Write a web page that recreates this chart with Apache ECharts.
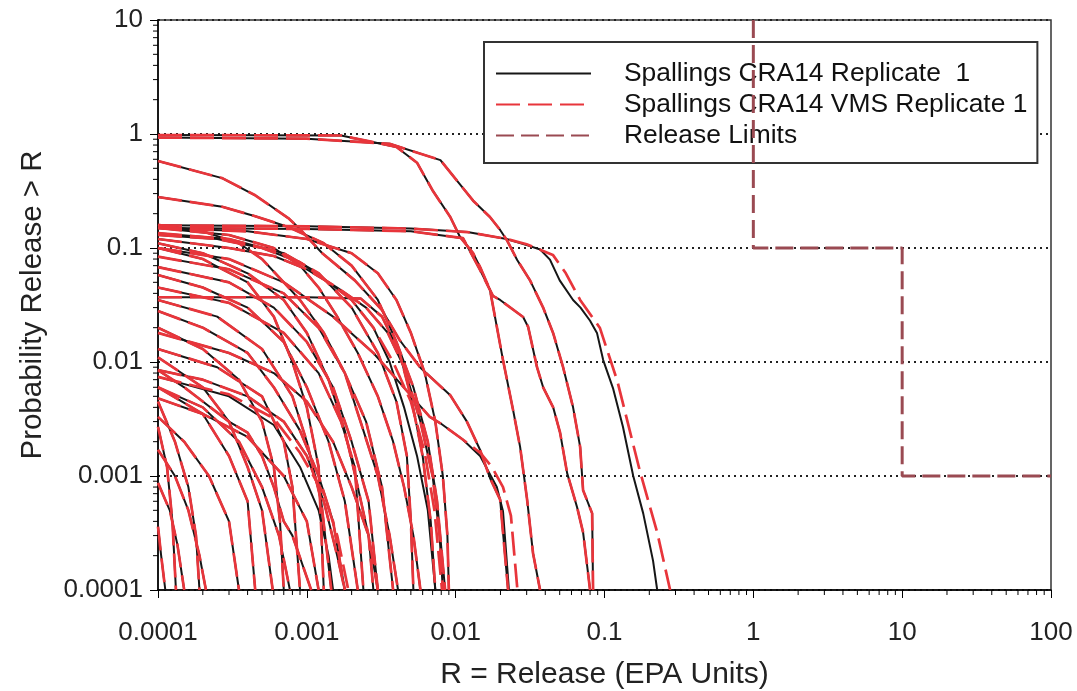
<!DOCTYPE html>
<html><head><meta charset="utf-8">
<script src="https://cdn.jsdelivr.net/npm/echarts@6/dist/echarts.min.js"></script>
<style>html,body{margin:0;padding:0;background:#fff}#c{width:1077px;height:691px}</style>
</head><body><div id="c"></div>
<script>
// ---- tick labels ----
const xTickLabels = ['0.0001','0.001','0.01','0.1','1','10','100'];
const yTickLabels = ['0.0001','0.001','0.01','0.1','1','10'];
const minorXTicks = [2e-4,3e-4,4e-4,5e-4,6e-4,7e-4,8e-4,9e-4,0.002,0.003,0.004,0.005,0.006,0.007,0.008,0.009,0.02,0.03,0.04,0.05,0.06,0.07,0.08,0.09,0.2,0.3,0.4,0.5,0.6,0.7,0.8,0.9,2,3,4,5,6,7,8,9,20,30,40,50,60,70,80,90];
const minorYTicks = [2e-4,3e-4,4e-4,5e-4,6e-4,7e-4,8e-4,9e-4,0.002,0.003,0.004,0.005,0.006,0.007,0.008,0.009,0.02,0.03,0.04,0.05,0.06,0.07,0.08,0.09,0.2,0.3,0.4,0.5,0.6,0.7,0.8,0.9,2,3,4,5,6,7,8,9];

// ---- series names ----
const NAME_REP = 'Spallings CRA14 Replicate  1';
const NAME_VMS = 'Spallings CRA14 VMS Replicate 1';
const NAME_REL = 'Release Limits';

// ---- release limits ----
const releaseLimits = [[1,10],[1,0.1],[10,0.1],[10,0.001],[100,0.001]];

// ---- CCDF curves [release, probability] ----
const curveB1 = [[1e-4,0.98],[0.0017,0.97],[0.004,0.77],[0.0055,0.56],[0.007,0.32],[0.0092,0.187],[0.0107,0.125],[0.0131,0.09],[0.0146,0.068],[0.017,0.043],[0.0208,0.0104],[0.0243,0.0038],[0.0271,0.0018],[0.0302,6.2e-4],[0.0331,2.1e-4],[0.0369,1e-4]];
const curveB2 = [[1e-4,0.93],[0.001,0.91],[0.0036,0.82],[0.0079,0.59],[0.0102,0.39],[0.0131,0.26],[0.017,0.187],[0.0199,0.144],[0.0221,0.117],[0.0259,0.0785],[0.0316,0.052],[0.0387,0.03],[0.0452,0.0179],[0.0527,0.009],[0.0615,0.004],[0.0686,0.0018],[0.0718,7.5e-4],[0.0826,4.7e-4],[0.0838,1e-4]];
const curveA = [[1e-4,0.158],[0.001,0.155],[0.005,0.148],[0.012,0.138],[0.022,0.12],[0.03,0.106],[0.037,0.097],[0.043,0.079],[0.05,0.052],[0.0615,0.035],[0.069,0.03],[0.08,0.023],[0.089,0.018],[0.098,0.0104],[0.114,0.0059],[0.133,0.0027],[0.156,0.001],[0.182,4.7e-4],[0.212,1.8e-4],[0.226,1e-4]];
const curveAvms = [[1e-4,0.158],[0.001,0.155],[0.005,0.148],[0.012,0.138],[0.022,0.12],[0.03,0.108],[0.045,0.087],[0.055,0.06],[0.0686,0.035],[0.093,0.02],[0.122,0.0068],[0.173,0.0011],[0.226,3.2e-4],[0.276,1e-4]];
const curveC = [[1e-4,0.15],[0.001,0.147],[0.005,0.14],[0.0112,0.122],[0.0146,0.064],[0.0178,0.038],[0.0199,0.035],[0.0284,0.0248],[0.0307,0.0203],[0.0352,0.009],[0.0387,0.006],[0.0452,0.004],[0.0503,0.0024],[0.0561,0.00106],[0.0655,5.3e-4],[0.0718,3.2e-4],[0.08,1e-4]];
const curveD = [[1e-4,0.58],[2.7e-4,0.41],[4.5e-4,0.29],[7.5e-4,0.183],[8.7e-4,0.153],[0.00127,0.09],[0.0021,0.052],[0.0032,0.0286],[0.0042,0.0156],[0.0058,0.0089],[0.0092,0.0051],[0.0119,0.003],[0.0146,0.00169],[0.017,9.6e-4],[0.0199,6.2e-4],[0.0208,3.2e-4],[0.0225,1e-4]];
const curveE = [[1e-4,0.28],[2.7e-4,0.23],[4.5e-4,0.19],[7.5e-4,0.153],[0.0013,0.11],[0.002,0.07],[0.003,0.035],[0.004,0.015],[0.0052,0.006],[0.0065,0.002],[0.0075,6e-4],[0.0085,1e-4]];
const curveG = [[1e-4,0.1],[3e-4,0.08],[7e-4,0.05],[0.0015,0.025],[0.0028,0.012],[0.0042,0.0066],[0.0067,0.0033],[0.0079,0.0029],[0.0111,0.0021],[0.0146,0.0015],[0.0189,8e-4],[0.0208,4.9e-4],[0.0228,1e-4]];
const curveGvms = [[1e-4,0.1],[3e-4,0.08],[7e-4,0.05],[0.0015,0.025],[0.0028,0.012],[0.0042,0.0066],[0.0067,0.0033],[0.0079,0.0029],[0.0111,0.0021],[0.0146,0.0016],[0.0175,0.0012],[0.0208,8e-4],[0.0235,4.5e-4],[0.026,1e-4]];
const curveH = [[1e-4,0.037],[0.001,0.037],[0.0023,0.036],[0.0032,0.025],[0.0042,0.012],[0.005,0.005],[0.006,0.0015],[0.0068,4e-4],[0.0073,1e-4]];
const curveK1 = [[1e-4,0.16],[2e-4,0.14],[3.5e-4,0.11],[5e-4,0.08],[7e-4,0.05],[9e-4,0.035],[0.0013,0.018],[0.0018,0.008],[0.0024,0.0025],[0.003,0.001],[0.0036,3e-4],[0.0041,1e-4]];
const curveK2 = [[1e-4,0.15],[3e-4,0.13],[6e-4,0.1],[9e-4,0.07],[0.0012,0.045],[0.0016,0.025],[0.0022,0.012],[0.003,0.005],[0.0038,0.002],[0.0045,8e-4],[0.0052,3e-4],[0.0058,1e-4]];
const curveK3 = [[1e-4,0.13],[2.5e-4,0.12],[5e-4,0.1],[9e-4,0.075],[0.0014,0.05],[0.002,0.035],[0.0028,0.02],[0.0036,0.01],[0.0045,0.004],[0.0055,0.0015],[0.0065,5e-4],[0.0073,1e-4]];
const curveK3vms = [[1e-4,0.13],[2.5e-4,0.12],[5e-4,0.1],[9e-4,0.075],[0.0014,0.05],[0.002,0.035],[0.0028,0.02],[0.0038,0.01],[0.005,0.0045],[0.0062,0.0016],[0.0072,5e-4],[0.0081,1e-4]];
const curveK4 = [[1e-4,0.12],[3e-4,0.1],[6e-4,0.085],[0.001,0.065],[0.0016,0.045],[0.0025,0.03],[0.0035,0.018],[0.0045,0.009],[0.0058,0.003],[0.007,0.001],[0.0078,3e-4],[0.0082,1e-4]];
const curveL2 = [[1e-4,0.028],[2e-4,0.02],[4e-4,0.012],[6e-4,0.006],[9e-4,0.0025],[0.0012,0.001],[0.0015,4e-4],[0.0018,1e-4]];
const curveL3 = [[1e-4,0.018],[3e-4,0.012],[6e-4,0.008],[0.001,0.0045],[0.0015,0.002],[0.002,8e-4],[0.0026,3e-4],[0.003,1e-4]];
const curveL4 = [[1e-4,0.0085],[2e-4,0.007],[4e-4,0.005],[7e-4,0.003],[0.001,0.0015],[0.0013,6e-4],[0.0016,2e-4],[0.0018,1e-4]];
const curveL5 = [[1e-4,0.0074],[3e-4,0.005],[6e-4,0.0028],[9e-4,0.0012],[0.0012,5e-4],[0.0014,2e-4],[0.0015,1e-4]];
const curveL5vms = [[1e-4,0.0074],[3e-4,0.0052],[6e-4,0.0032],[9e-4,0.0016],[0.0013,7e-4],[0.0016,3e-4],[0.0019,1e-4]];
const curveL6 = [[1e-4,0.006],[2e-4,0.004],[3.5e-4,0.002],[5e-4,8e-4],[6.5e-4,3e-4],[7.7e-4,1e-4]];
const curveL7 = [[1e-4,0.0048],[2e-4,0.0035],[4e-4,0.0022],[7e-4,0.001],[0.001,4e-4],[0.0012,1e-4]];
const curveL8 = [[1e-4,0.0033],[1.5e-4,0.002],[2.2e-4,0.001],[3e-4,4e-4],[3.5e-4,1e-4]];
const curveL9 = [[1e-4,0.0017],[1.3e-4,0.001],[1.6e-4,5e-4],[1.9e-4,2e-4],[2.1e-4,1e-4]];
const curveL10 = [[1e-4,8.7e-4],[1.2e-4,5e-4],[1.35e-4,2.5e-4],[1.5e-4,1e-4]];
const curveL11 = [[1e-4,3.6e-4],[1.05e-4,2e-4],[1.12e-4,1e-4]];
const curveL12 = [[1e-4,0.058],[2e-4,0.045],[4e-4,0.03],[7e-4,0.015],[0.001,0.006],[0.0014,0.002],[0.0018,6e-4],[0.0022,1e-4]];
const curveL13 = [[1e-4,0.068],[3e-4,0.05],[6e-4,0.03],[0.001,0.015],[0.0015,0.006],[0.002,0.002],[0.0026,6e-4],[0.003,1e-4]];
const curveL14 = [[1e-4,0.084],[3e-4,0.065],[7e-4,0.04],[0.0012,0.02],[0.0018,0.008],[0.0025,0.003],[0.0032,8e-4],[0.0038,1e-4]];
const curveL15 = [[1e-4,0.1],[2e-4,0.08],[4e-4,0.05],[6e-4,0.025],[8e-4,0.01],[0.001,0.004],[0.0012,0.0012],[0.0013,1e-4]];
const curveM1 = [[1e-4,0.0045],[1.3e-4,0.002],[1.6e-4,8e-4],[1.8e-4,3e-4],[1.9e-4,1e-4]];
const curveM2 = [[1e-4,0.0027],[1.15e-4,0.0012],[1.25e-4,4e-4],[1.32e-4,1e-4]];
const curveM3 = [[1e-4,0.011],[2e-4,0.006],[3e-4,0.003],[4e-4,0.0012],[5e-4,5e-4],[5.9e-4,1e-4]];
const curveM4 = [[1e-4,0.006],[2e-4,0.0035],[3e-4,0.0015],[4e-4,6e-4],[4.5e-4,1e-4]];
const curveM5 = [[1e-4,0.013],[2.5e-4,0.009],[5e-4,0.005],[7e-4,0.002],[8e-4,8e-4],[9e-4,1e-4]];
const curveM6 = [[1e-4,0.035],[2.5e-4,0.025],[5e-4,0.013],[8e-4,0.005],[0.001,0.002],[0.00125,6e-4],[0.00146,1e-4]];
const curveM7 = [[1e-4,0.045],[3e-4,0.033],[7e-4,0.018],[0.0012,0.008],[0.0017,0.003],[0.0021,0.0012],[0.0024,1e-4]];
const curveM8 = [[1e-4,0.11],[2e-4,0.09],[4e-4,0.06],[7e-4,0.035],[0.001,0.018],[0.0014,0.007],[0.0018,0.0025],[0.0022,8e-4],[0.0026,3e-4],[0.0028,1e-4]];
const curveM9 = [[1e-4,0.135],[3e-4,0.12],[7e-4,0.09],[0.0012,0.06],[0.002,0.03],[0.003,0.012],[0.004,0.0045],[0.0047,0.0015],[0.005,4e-4],[0.0052,1e-4]];
const curveM10 = [[1e-4,0.15],[4e-4,0.14],[0.001,0.12],[0.002,0.09],[0.003,0.06],[0.004,0.035],[0.005,0.018],[0.0062,0.008],[0.0073,0.003],[0.0082,0.001],[0.0088,3e-4],[0.009,1e-4]];
const curveM13 = [[1e-4,0.02],[2e-4,0.013],[3.5e-4,0.007],[5e-4,0.003],[6e-4,0.0012],[6.6e-4,4e-4],[7e-4,1e-4]];
const curveM14 = [[1e-4,0.0085],[1.5e-4,0.006],[2e-4,0.0045],[3e-4,0.003],[4e-4,0.0024],[5e-4,0.0015],[6e-4,8e-4],[7e-4,4e-4],[8e-4,3e-4],[0.00107,1e-4]];

const replicateCurves = [curveB1,curveB2,curveA,curveC,curveD,curveE,curveG,curveH,curveK1,curveK2,curveK3,curveK4,curveL2,curveL3,curveL4,curveL5,curveL6,curveL7,curveL8,curveL9,curveL10,curveL11,curveL12,curveL13,curveL14,curveL15,curveM1,curveM2,curveM3,curveM4,curveM5,curveM6,curveM7,curveM8,curveM9,curveM10,curveM13,curveM14];
const vmsCurves = [curveB1,curveB2,curveAvms,curveC,curveD,curveE,curveGvms,curveH,curveK1,curveK2,curveK3vms,curveK4,curveL2,curveL3,curveL4,curveL5vms,curveL6,curveL7,curveL8,curveL9,curveL10,curveL11,curveL12,curveL13,curveL14,curveL15,curveM1,curveM2,curveM3,curveM4,curveM5,curveM6,curveM7,curveM8,curveM9,curveM10,curveM13,curveM14];

const FONT = 'Liberation Sans, Arial, sans-serif';
const BLACK = '#161616', RED = '#E8353B', BROWN = '#9A4A52';
const chart = echarts.init(document.getElementById('c'), null, {renderer:'canvas'});

const series = [];
replicateCurves.forEach(function(c){
  series.push({name:NAME_REP, type:'line', data:c, symbol:'none', showSymbol:false, silent:true,
    itemStyle:{color:BLACK}, lineStyle:{color:BLACK, width:2}, z:2});
});
vmsCurves.forEach(function(c){
  series.push({name:NAME_VMS, type:'line', data:c, symbol:'none', showSymbol:false, silent:true,
    itemStyle:{color:RED}, lineStyle:{color:RED, width:2.7, type:[24,8]}, z:3});
});
series.push({name:NAME_REL, type:'line', data:releaseLimits, symbol:'none', showSymbol:false, silent:true,
  itemStyle:{color:BROWN}, lineStyle:{color:BROWN, width:3, type:[18,7]}, z:4});
// minor ticks drawn through the axis scales
series.push({type:'custom', silent:true, clip:false, z:6,
  data: minorXTicks.map(function(v){return [v, 1e-4];}),
  encode:{x:0, y:1},
  renderItem:function(params, api){
    const p = api.coord([api.value(0), api.value(1)]);
    return {type:'line', shape:{x1:p[0], y1:p[1], x2:p[0], y2:p[1]+5}, style:{stroke:'#000', lineWidth:1}};
  }});
series.push({type:'custom', silent:true, clip:false, z:6,
  data: minorYTicks.map(function(v){return [1e-4, v];}),
  encode:{x:0, y:1},
  renderItem:function(params, api){
    const p = api.coord([api.value(0), api.value(1)]);
    return {type:'line', shape:{x1:p[0]-5, y1:p[1], x2:p[0], y2:p[1]}, style:{stroke:'#000', lineWidth:1}};
  }});

chart.setOption({
  animation:false,
  backgroundColor:'#fff',
  grid:{left:158, right:26, top:20, bottom:101, show:true, borderColor:'#333', borderWidth:1.5,
    backgroundColor:'transparent', containLabel:false, outerBoundsMode:'none'},
  legend:{
    orient:'vertical', left:484, top:42,
    data:[NAME_REP, NAME_VMS, NAME_REL],
    itemWidth:95, itemHeight:14, itemGap:2,
    padding:[17,10,13,11],
    backgroundColor:'#fff', borderColor:'#333', borderWidth:2,
    selectedMode:false,
    itemStyle:{opacity:0},
    textStyle:{fontSize:26.4, fontFamily:FONT, color:'#111', padding:[0,0,0,28], lineHeight:29}
  },
  xAxis:{
    type:'log', logBase:10, min:1e-4, max:100, splitNumber:6,
    name:'R = Release (EPA Units)', nameLocation:'middle', nameGap:70,
    nameTextStyle:{fontSize:30, fontFamily:FONT, color:'#222'},
    axisLine:{lineStyle:{color:'#000', width:1.5}},
    axisTick:{length:8, lineStyle:{color:'#000', width:1}},
    axisLabel:{margin:30, fontSize:26, fontFamily:FONT, color:'#222',
      formatter:function(v){return xTickLabels[Math.round(Math.log10(v))+4];}},
    splitLine:{show:false}
  },
  yAxis:{
    type:'log', logBase:10, min:1e-4, max:10, splitNumber:5,
    name:'Probability Release > R', nameLocation:'middle', nameGap:110,
    nameTextStyle:{fontSize:29.5, fontFamily:FONT, color:'#222'},
    axisLine:{lineStyle:{color:'#000', width:1.5}},
    axisTick:{length:8, lineStyle:{color:'#000', width:1}},
    axisLabel:{margin:15, fontSize:26, fontFamily:FONT, color:'#222',
      formatter:function(v){return yTickLabels[Math.round(Math.log10(v))+4];}},
    splitLine:{show:true, lineStyle:{type:[2,4], color:'#222', width:1.8}}
  },
  series:series
});
</script></body></html>
